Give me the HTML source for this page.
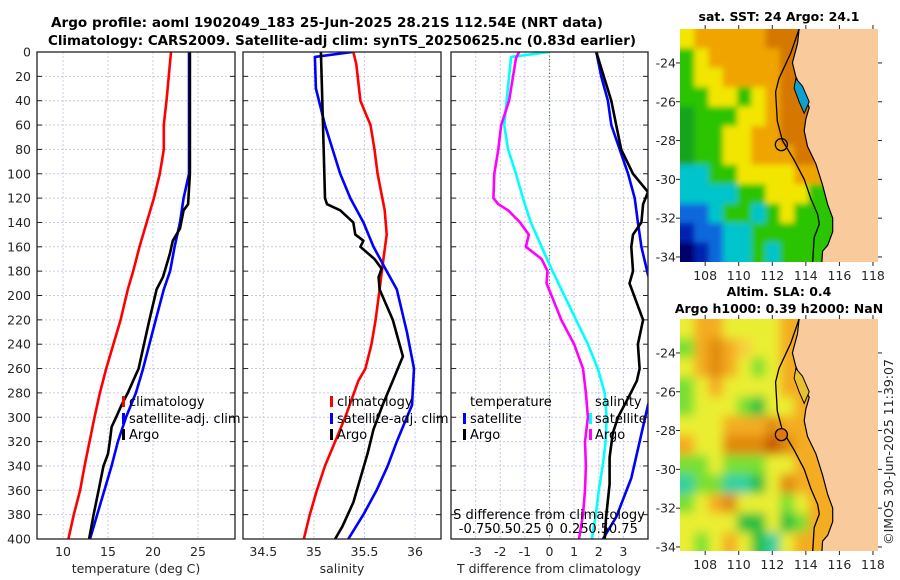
<!DOCTYPE html>
<html><head><meta charset="utf-8"><style>
html,body{margin:0;padding:0;background:#fff}
svg{display:block;font-family:"DejaVu Sans","Liberation Sans",sans-serif}
</style></head><body>
<svg id="fig" width="900" height="580" viewBox="0 0 900 580" xmlns="http://www.w3.org/2000/svg">
<rect width="900" height="580" fill="#fff"/>
<text x="327" y="27" text-anchor="middle" font-weight="bold" font-size="13" textLength="552" lengthAdjust="spacingAndGlyphs">Argo profile: aoml 1902049_183 25-Jun-2025 28.21S 112.54E (NRT data)</text>
<text x="342" y="45" text-anchor="middle" font-weight="bold" font-size="13" textLength="588" lengthAdjust="spacingAndGlyphs">Climatology: CARS2009. Satellite-adj clim: synTS_20250625.nc (0.83d earlier)</text>
<g id="panels"></g>
<g id="maps"></g>
<text transform="translate(893,452) rotate(-90)" text-anchor="middle" font-size="12.5" fill="#262626">©IMOS 30-Jun-2025 11:39:07</text>
</svg>
<script>
// ---------- data ----------
const depthTicks=[0,20,40,60,80,100,120,140,160,180,200,220,240,260,280,300,320,340,360,380,400];
const tempTicks=[10,15,20,25];
const salTicks=[34.5,35,35.5,36];
const tdiffTicks=[-3,-2,-1,0,1,2,3];
const sdiffTickLabels=["-0.75","-0.5","-0.25","0","0.25","0.5","0.75"];

const climTDepth=[0,40,60,80,100,120,140,160,180,195,220,240,260,280,300,340,360,380,400];
const climT=[22.0,21.5,21.2,21.2,20.75,20.1,19.3,18.5,17.8,17.2,16.4,15.6,14.8,14.1,13.5,12.4,11.9,11.2,10.6];
const satTDepth=[0,100,120,140,160,180,195,220,240,260,280,300,320,340,360,380,400];
const satT=[24.0,24.0,23.4,23.0,22.4,21.9,21.2,20.3,19.6,18.9,18.1,17.0,16.1,15.4,14.6,13.8,13.0];
const argoTDepth=[0,100,125,130,145,155,165,175,185,195,220,240,260,270,280,290,300,308,320,330,340,360,380,400];
const argoT=[24.1,24.1,23.9,23.4,23.0,22.2,21.9,21.5,21.1,20.4,19.6,19.0,18.4,17.8,17.2,16.5,15.9,15.4,15.2,15.0,14.5,13.96,13.4,12.9];

const climSDepth=[0,10,40,50,60,80,100,130,150,175,195,220,240,260,270,300,320,340,360,380,400];
const climS=[35.39,35.42,35.46,35.51,35.56,35.60,35.63,35.70,35.72,35.68,35.65,35.61,35.57,35.51,35.44,35.31,35.21,35.11,35.03,34.96,34.90];
const satSDepth=[0,4,30,60,100,120,140,160,180,195,230,260,290,300,320,340,360,380,400];
const satS=[35.38,35.01,35.02,35.11,35.26,35.36,35.49,35.59,35.72,35.82,35.92,35.99,35.97,35.92,35.82,35.73,35.62,35.49,35.34];
const argoSDepth=[0,60,120,125,130,140,150,155,160,170,178,185,195,220,250,270,290,310,330,350,370,390,400];
const argoS=[35.07,35.09,35.11,35.13,35.26,35.39,35.41,35.49,35.46,35.60,35.67,35.64,35.65,35.78,35.88,35.78,35.68,35.59,35.53,35.46,35.39,35.28,35.21];

const satSdDepth=[0,4,20,60,80,100,120,140,160,180,200,220,240,260,280,300,320,340,360,380,400];
const satSd=[0,-0.39,-0.41,-0.46,-0.42,-0.34,-0.27,-0.19,-0.08,0.03,0.15,0.27,0.39,0.49,0.56,0.58,0.57,0.54,0.50,0.47,0.43];
const argoSdDepth=[0,5,40,60,80,100,120,125,130,140,150,160,170,180,190,200,220,240,260,280,300,320,340,360,380,400];
const argoSd=[-0.31,-0.34,-0.41,-0.49,-0.52,-0.56,-0.57,-0.52,-0.42,-0.30,-0.21,-0.24,-0.08,-0.02,-0.03,0.02,0.12,0.25,0.34,0.37,0.39,0.36,0.37,0.36,0.34,0.30];
const argoTdDepth=[0,40,60,80,100,115,125,140,150,160,180,190,220,240,260,270,280,300,313,333,355,382,400];
const argoTd=[1.9,2.51,2.71,2.91,3.39,4.0,3.8,3.73,3.39,3.32,3.39,3.25,3.8,3.59,3.66,3.55,3.3,2.78,2.57,2.44,2.44,2.3,2.24];
const satTdDepth=[0,20,40,60,80,100,120,140,160,183,220,260,290,350,382,400];
const satTd=[1.9,2.1,2.37,2.51,2.85,3.19,3.46,3.59,3.73,4.0,4.6,4.5,4.0,3.32,2.71,2.17];

const sstGrid=["Yooooorrrr","gYooooorrr","gYYoooorrr","ggYYgYorrr","GgggYYorrr","GggYYoorrr","GggYYooorr","ccggYYYYoo","ccccggYYYg","bbcggcgYgg","Bbbccggggg","nBbccgcggg"];
const slaGrid=["YooYYYYooo","gorolYYooo","YoroYgYooo","gYoYYYYooo","gYYYgGYYoo","YYYooorooo","oYYrrrRroo","ggYgggYYoo","cggccGYroo","gYorYYYgYo","YYYYGGYGgo","YgYoYGcYoo"];
const argoLon=112.54, argoLat=-28.21;

// ---------- helpers ----------
const NS="http://www.w3.org/2000/svg";
function mk(tag,attrs,parent){const e=document.createElementNS(NS,tag);for(const k in attrs)e.setAttribute(k,attrs[k]);if(parent)parent.appendChild(e);return e;}
const panels=document.getElementById('panels');
const PY0=52,PY1=539;
const yDepth=d=>PY0+(d/400)*(PY1-PY0);
function lin(d0,d1,r0,r1){return v=>r0+(v-d0)/(d1-d0)*(r1-r0);}

function panel(id,x0,x1,xs,ticks,tickFmt,withY){
  const g=mk('g',{},panels);
  
  
  mk('clipPath',{id:id+'-clip'},g).appendChild(mk('rect',{x:x0,y:PY0,width:x1-x0,height:PY1-PY0}));
  const grid=mk('g',{},g);
  
  
  depthTicks.forEach(d=>{
    mk('line',{x1:x0,x2:x1,y1:yDepth(d),y2:yDepth(d),stroke:'#c4cbe6','stroke-width':1,'stroke-dasharray':'2,2'},grid);
    mk('line',{x1:x0,x2:x0+5,y1:yDepth(d),y2:yDepth(d),stroke:'#222','stroke-width':1},grid);
    mk('line',{x1:x1-5,x2:x1,y1:yDepth(d),y2:yDepth(d),stroke:'#222','stroke-width':1},grid);
    if(withY){const t=mk('text',{x:x0-6,y:yDepth(d)+4.5,'text-anchor':'end','font-size':12.5,fill:'#262626'},g);t.textContent=d;
      
      }
  });
  ticks.forEach(v=>{
    mk('line',{x1:xs(v),x2:xs(v),y1:PY0,y2:PY1,stroke:'#c4cbe6','stroke-width':1,'stroke-dasharray':'2,2'},grid);
    const t=mk('text',{x:xs(v),y:556,'text-anchor':'middle','font-size':12.5,fill:'#262626'},g);t.textContent=tickFmt(v);
    
    
  });
  return g;
}
function frame(g,x0,x1){mk('rect',{x:x0,y:PY0,width:x1-x0,height:PY1-PY0,fill:'none',stroke:'#222','stroke-width':1.3},g);}
function series(g,id,clip,xs,vals,depths,color){
  const pts=vals.map((v,i)=>xs(v).toFixed(1)+','+yDepth(depths[i]).toFixed(1)).join(' ');
  const p=mk('polyline',{points:pts,fill:'none',stroke:color,'stroke-width':2.6,'stroke-linejoin':'round','clip-path':'url(#'+clip+')'},g);
  
  
}
function txt(g,name,x,y,s,opts){const t=mk('text',Object.assign({x:x,y:y,'font-size':13,fill:'#000'},opts||{}),g);t.textContent=s;
  
  
  return t;}
function legMark(g,x,y,color){mk('rect',{x:x,y:y-10,width:3,height:11,fill:color},g);}

// ---------- panel 1: temperature ----------
const xT=lin(10,25,63,198);
const g1=panel('temperature-panel',37,235,xT,tempTicks,v=>v,true);
series(g1,'temp-climatology-line','temperature-panel-clip',xT,climT,climTDepth,'#ff0000');
series(g1,'temp-satellite-line','temperature-panel-clip',xT,satT,satTDepth,'#0000ff');
series(g1,'temp-argo-line','temperature-panel-clip',xT,argoT,argoTDepth,'#000000');
frame(g1,37,235);
txt(g1,'temperature-axis-title',136,573,'temperature (deg C)',{'text-anchor':'middle','font-size':12.5,fill:'#262626'});
legMark(g1,122,406,'#ff0000');txt(g1,'legend-climatology',129,406,'climatology');
legMark(g1,122,423,'#0000ff');txt(g1,'legend-satellite-adj',129,423,'satellite-adj. clim');
legMark(g1,122,439,'#000');txt(g1,'legend-argo',129,439,'Argo');

// ---------- panel 2: salinity ----------
const xS=lin(34.5,36,263.3,415);
const g2=panel('salinity-panel',243,441,xS,salTicks,v=>v,false);
series(g2,'sal-climatology-line','salinity-panel-clip',xS,climS,climSDepth,'#ff0000');
series(g2,'sal-satellite-line','salinity-panel-clip',xS,satS,satSDepth,'#0000ff');
series(g2,'sal-argo-line','salinity-panel-clip',xS,argoS,argoSDepth,'#000000');
frame(g2,243,441);
txt(g2,'salinity-axis-title',342,573,'salinity',{'text-anchor':'middle','font-size':12.5,fill:'#262626'});
legMark(g2,330,406,'#ff0000');txt(g2,'legend-climatology',337,406,'climatology');
legMark(g2,330,423,'#0000ff');txt(g2,'legend-satellite-adj',337,423,'satellite-adj. clim');
legMark(g2,330,439,'#000');txt(g2,'legend-argo',337,439,'Argo');

// ---------- panel 3: differences ----------
const xD=lin(-4,4,451,648);
const xSd=v=>xD(v*4);
const g3=panel('difference-panel',451,648,xD,tdiffTicks,v=>v,false);
mk('line',{x1:xD(0),x2:xD(0),y1:PY0,y2:PY1,stroke:'#556b2f','stroke-width':1.2,'stroke-dasharray':'1,2.5'},g3);
series(g3,'sdiff-satellite-line','difference-panel-clip',xSd,satSd,satSdDepth,'#00ffff');
series(g3,'sdiff-argo-line','difference-panel-clip',xSd,argoSd,argoSdDepth,'#ff00ff');
series(g3,'tdiff-satellite-line','difference-panel-clip',xD,satTd,satTdDepth,'#0000ff');
series(g3,'tdiff-argo-line','difference-panel-clip',xD,argoTd,argoTdDepth,'#000000');
frame(g3,451,648);
txt(g3,'legend-temperature-header',470,406,'temperature');
legMark(g3,463,423,'#0000ff');txt(g3,'legend-t-satellite',470,423,'satellite');
legMark(g3,463,439,'#000');txt(g3,'legend-t-argo',470,439,'Argo');
txt(g3,'legend-salinity-header',595,406,'salinity');
legMark(g3,589,423,'#00ffff');txt(g3,'legend-s-satellite',595,423,'satellite');
legMark(g3,589,439,'#ff00ff');txt(g3,'legend-s-argo',595,439,'Argo');
txt(g3,'s-difference-axis-title',549,519,'S difference from climatology',{'text-anchor':'middle'});
tdiffTicks.forEach((v,i)=>{txt(g3,'s-diff-tick-label',xD(v),533,sdiffTickLabels[i],{'text-anchor':'middle'});});
txt(g3,'t-difference-axis-title',549,573,'T difference from climatology',{'text-anchor':'middle','font-size':12.5,fill:'#262626'});

// ---------- maps ----------
const maps=document.getElementById('maps');
const sstCol={r:'#d67800',o:'#f0a400',Y:'#f2e600',g:'#2cc400',G:'#14a41e',c:'#00c4cc',b:'#1068dc',B:'#0020b0',n:'#00006c',y:'#f8d000'};
const slaCol={r:'#e08a10',R:'#c85a00',o:'#f4ac20',Y:'#eaee30',g:'#78e030',G:'#20c040',c:'#30d0a0',l:'#f8d040',y:'#f0d040'};
const defs=mk('defs',{},maps);
const f1=mk('filter',{id:'blur1',x:'-5%',y:'-5%',width:'110%',height:'110%'},defs);mk('feGaussianBlur',{stdDeviation:3},f1);
const f2=mk('filter',{id:'blur2',x:'-10%',y:'-10%',width:'120%',height:'120%'},defs);mk('feGaussianBlur',{stdDeviation:5},f2);
const coast=[[113.6,-22.25],[113.5,-23],[113.2,-24],[113.4,-24.7],[113.8,-25.5],[114.2,-26.3],[114.0,-26.9],[113.9,-27.5],[114.1,-28.3],[114.6,-29.2],[115.0,-30.3],[115.3,-31.3],[115.6,-32.0],[115.6,-32.7],[115.3,-33.4],[115.0,-33.7],[114.95,-34.3]];
const shelf=[[113.6,-22.25],[113.1,-23.5],[112.4,-24.8],[112.2,-25.5],[112.3,-27],[112.6,-28],[113.3,-29.0],[113.9,-30.0],[114.3,-31.0],[114.7,-31.8],[114.8,-32.3],[114.5,-33.0],[114.4,-34.3]];
function drawMap(name,y0,y1,grid,cols,blur,title,titleYs,fillCircle){
  const x0=680,x1=878;
  const X=lin(106.5,118.3,x0,x1), Y=lin(-22.25,-34.25,y0,y0+12*19.4);
  const g=mk('g',{},maps);
  
  
  mk('clipPath',{id:name+'-clip'},g).appendChild(mk('rect',{x:x0,y:y0,width:x1-x0,height:y1-y0}));
  const img=mk('g',{'clip-path':'url(#'+name+'-clip)'},g);
  const cells=mk('g',{filter:'url(#'+blur+')'},img);
  const cw=(X(115)-X(106.5))/10, ch=19.4;
  grid.forEach((row,r)=>{for(let c=0;c<row.length;c++){
    const ex=(c==0?-20:0), ey=(r==0?-20:0);
    mk('rect',{x:x0+c*cw+ex,y:y0+r*ch+ey,width:cw+1-ex+(c==row.length-1?25:0),height:ch+1-ey+(r==grid.length-1?25:0),fill:cols[row[c]]},cells);}});
  const landPts=coast.map(p=>X(p[0]).toFixed(1)+','+Y(p[1]).toFixed(1)).join(' ')+' '+X(118.4)+','+Y(-34.4)+' '+X(118.4)+','+Y(-22.2);
  const land=mk('polygon',{points:landPts,fill:'#f9cb9c',stroke:'none'},img);
  
  
  mk('polyline',{points:coast.map(p=>X(p[0]).toFixed(1)+','+Y(p[1]).toFixed(1)).join(' '),fill:'none',stroke:'#000','stroke-width':1.2},img);
  const bay=[[113.4,-24.8],[113.8,-25.2],[114.2,-26.0],[113.9,-26.6],[113.6,-26.0],[113.3,-25.3]];
  mk('polygon',{points:bay.map(p=>X(p[0]).toFixed(1)+','+Y(p[1]).toFixed(1)).join(' '),fill:name==='sst-map'?'#10a0d0':'#e8c030',stroke:'#000','stroke-width':1},img);
  const sh=mk('polyline',{points:shelf.map(p=>X(p[0]).toFixed(1)+','+Y(p[1]).toFixed(1)).join(' '),fill:'none',stroke:'#000','stroke-width':1.3},img);
  
  
  const circ=mk('circle',{cx:X(argoLon),cy:Y(argoLat),r:6,fill:fillCircle,stroke:'#000','stroke-width':1.3},g);
  
  
  [-24,-26,-28,-30,-32,-34].forEach(l=>{
    txt(g,'lat-tick-label',676,Y(l)+4.5,String(l),{'text-anchor':'end','font-size':12.5,fill:'#262626'});
    mk('line',{x1:x1,x2:x1+4,y1:Y(l),y2:Y(l),stroke:'#222'},g);
    mk('line',{x1:x0-4,x2:x0,y1:Y(l),y2:Y(l),stroke:'#222'},g);
  });
  [108,110,112,114,116,118].forEach(l=>{
    txt(g,'lon-tick-label',X(l),y1+18,String(l),{'text-anchor':'middle','font-size':12.5,fill:'#262626'});
    mk('line',{x1:X(l),x2:X(l),y1:y0-4,y2:y0,stroke:'#222'},g);
    mk('line',{x1:X(l),x2:X(l),y1:y1,y2:y1+4,stroke:'#222'},g);
  });
  title.forEach((t,i)=>txt(g,'map-title',779,titleYs[i],t,{'text-anchor':'middle','font-weight':'bold','font-size':12.5}));
}
drawMap('sst-map',29,262,sstGrid,sstCol,'blur1',['sat. SST: 24 Argo: 24.1'],[21],'none');
drawMap('sla-map',319,551,slaGrid,slaCol,'blur2',['Altim. SLA: 0.4','Argo h1000: 0.39 h2000: NaN'],[296,313],'#e07810');
</script>
</body></html>
